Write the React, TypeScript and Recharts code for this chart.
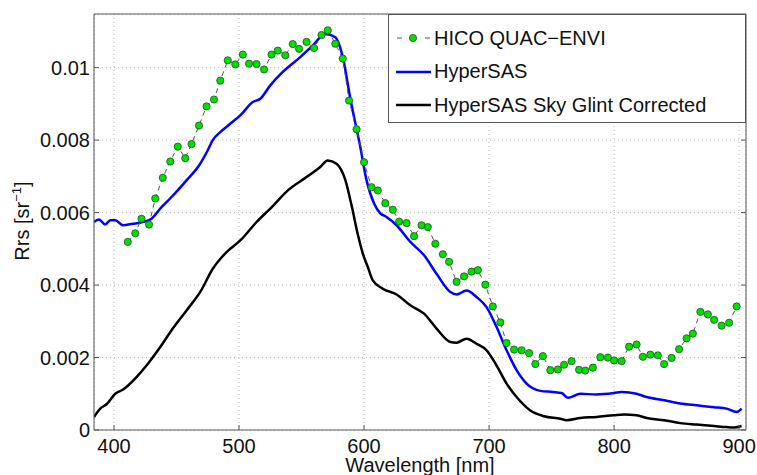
import { LineChart, Line, XAxis, YAxis, CartesianGrid } from 'recharts';

// HICO QUAC-ENVI retrieval (nm, sr^-1)
const hicoWl = [
  411, 417, 422, 428, 433, 439, 445, 451, 457, 462, 468, 474, 480, 485, 491, 497,
  503, 508, 514, 520, 526, 531, 537, 543, 548, 554, 560, 566, 571, 577, 583, 588,
  594, 600, 606, 611, 617, 623, 628, 634, 640, 646, 651, 657, 663, 668, 674, 680,
  686, 691, 697, 703, 709, 714, 720, 726, 732, 737, 743, 749, 755, 760, 766, 772,
  777, 783, 789, 795, 800, 806, 812, 818, 823, 829, 835, 840, 846, 852, 858, 863,
  869, 875, 880, 886, 892, 898,
];
const hicoRrs = [
  0.00519, 0.00543, 0.00583, 0.00567, 0.00639, 0.00696, 0.00741, 0.00782, 0.0075, 0.00789,
  0.0084, 0.00893, 0.00912, 0.00964, 0.0102, 0.01009, 0.01036, 0.01011, 0.0101, 0.00995,
  0.01036, 0.01047, 0.01034, 0.01065, 0.01052, 0.01071, 0.01054, 0.0109, 0.01103, 0.01066,
  0.01025, 0.00909, 0.0083, 0.00739, 0.0067, 0.00661, 0.00626, 0.00608, 0.00575, 0.00571,
  0.00535, 0.00565, 0.0056, 0.00514, 0.00485, 0.00464, 0.00409, 0.00424, 0.00437, 0.00441,
  0.00401, 0.00341, 0.00297, 0.0024, 0.00222, 0.0022, 0.00212, 0.00182, 0.00204, 0.00165,
  0.00167, 0.0018, 0.0019, 0.00166, 0.00164, 0.00172, 0.00201, 0.002, 0.00192, 0.0019,
  0.0023, 0.00236, 0.00202, 0.00208, 0.00206, 0.00182, 0.00199, 0.00223, 0.00253, 0.00266,
  0.00326, 0.00319, 0.00304, 0.00288, 0.00296, 0.00341,
];

// HyperSAS
const sasWl = [
  384, 388, 393, 397, 401, 407, 415, 423, 430, 438, 446, 458, 468, 475, 479, 485,
  493, 501, 511, 517, 525, 535, 549, 559, 569, 577, 583, 589, 597, 602, 608, 613,
  618, 626, 637, 648, 658, 669, 674, 682, 690, 698, 706, 714, 722, 730, 741, 751,
  758, 763, 773, 786, 800, 806, 818, 826, 840, 853, 866, 880, 890, 898, 902,
];
const sasRrs = [
  0.00574, 0.00581, 0.00567, 0.00579, 0.00579, 0.00565, 0.00569, 0.00574, 0.00583, 0.00615,
  0.00643, 0.00689, 0.0073, 0.00772, 0.008, 0.00822, 0.00845, 0.00868, 0.00905, 0.00914,
  0.00951, 0.00988, 0.01029, 0.01061, 0.01093, 0.01084, 0.01029, 0.00915, 0.00781, 0.00689,
  0.00625, 0.00598, 0.00588, 0.00565, 0.00519, 0.00482, 0.00431, 0.00381, 0.00374, 0.00385,
  0.00367, 0.00339, 0.00284, 0.0022, 0.00165, 0.00128, 0.00108, 0.00105, 0.00102, 0.00089,
  0.001, 0.00098, 0.00102, 0.00105, 0.001, 0.00091, 0.00082, 0.00073, 0.00068, 0.00063,
  0.00059, 0.0005, 0.00059,
];

// HyperSAS sky glint corrected
const glintWl = [
  384, 389, 394, 401, 407, 418, 426, 437, 447, 458, 469, 479, 490, 501, 514, 525,
  540, 554, 565, 571, 578, 585, 590, 595, 599, 603, 607, 615, 626, 637, 648, 658,
  669, 674, 682, 690, 698, 706, 714, 722, 733, 744, 757, 762, 773, 786, 800, 808,
  818, 826, 840, 853, 866, 880, 890, 896, 902,
];
const glintRrs = [
  0.00036, 0.00059, 0.00071, 0.001, 0.00111, 0.00146, 0.00178, 0.00229, 0.0028, 0.0033,
  0.00381, 0.00445, 0.00491, 0.00523, 0.00574, 0.00611, 0.00664, 0.00698, 0.00726, 0.00744,
  0.00735, 0.0069, 0.0062, 0.0054, 0.00487, 0.0045, 0.00413, 0.0039, 0.00374, 0.00344,
  0.00321, 0.0028, 0.00243, 0.00241, 0.00252, 0.00238, 0.0022, 0.00178, 0.00128, 0.00091,
  0.00054, 0.00038, 0.00031, 0.00027, 0.00033, 0.00036, 0.00041, 0.00043, 0.00041, 0.00033,
  0.00027, 0.00019, 0.00015, 0.00011, 0.00008, 0.00007, 0.00011,
];

const xTicks = [400, 500, 600, 700, 800, 900];
const yTicks = [0, 0.002, 0.004, 0.006, 0.008, 0.01];

const toRows = (wl: number[], v: number[]) => wl.map((x, i) => ({ wl: x, rrs: v[i] }));

const FONT = '"Liberation Sans", Arial, sans-serif';
const AXIS = '#555';
const FS = 20;

const GreenDot = (props: any) => {
  const { cx, cy } = props;
  if (cx == null || cy == null) return null;
  return <circle cx={cx} cy={cy} r={3.6} fill="#00e000" stroke="#1f4f1f" strokeWidth={0.8} />;
};

const fmtY = (v: number) => (v === 0 ? '0' : String(+v.toFixed(3)));

export default function App() {
  const hico = toRows(hicoWl, hicoRrs);
  const sas = toRows(sasWl, sasRrs);
  const glint = toRows(glintWl, glintRrs);

  return (
    <div style={{ position: 'absolute', left: 0, top: 0, width: 757, height: 475, background: '#fff', fontFamily: FONT, overflow: 'hidden' }}>
      <LineChart width={757} height={475} margin={{ top: 13, right: 10, bottom: 0, left: 0 }}>
        <CartesianGrid stroke="#bbb" strokeDasharray="1 3" />
        <XAxis
          dataKey="wl"
          type="number"
          domain={[384, 905.5]}
          ticks={xTicks}
          allowDataOverflow
          height={45}
          stroke={AXIS}
          tickSize={-5}
          tickMargin={14}
          tick={{ fill: '#111', fontSize: FS, fontFamily: FONT }}
          label={{
            content: () => (
              <text x={420} y={472} textAnchor="middle" fill="#111" fontSize={FS} fontFamily={FONT}>
                Wavelength [nm]
              </text>
            ),
          }}
        />
        <XAxis
          xAxisId="top"
          orientation="top"
          type="number"
          domain={[384, 905.5]}
          ticks={xTicks}
          allowDataOverflow
          height={1}
          stroke={AXIS}
          tickSize={-5}
          tickFormatter={() => ''}
        />
        <YAxis
          type="number"
          domain={[0, 0.01148]}
          ticks={yTicks}
          allowDataOverflow
          width={94}
          stroke={AXIS}
          tickSize={-5}
          tickMargin={9}
          tickFormatter={fmtY}
          tick={{ fill: '#111', fontSize: FS, fontFamily: FONT }}
          label={{
            content: () => (
              <text x={29} y={221} transform="rotate(-90 29 221)" textAnchor="middle" fill="#111" fontSize={FS} fontFamily={FONT}>
                Rrs [sr
                <tspan dy={-8} fontSize={13}>−1</tspan>
                <tspan dy={8}>]</tspan>
              </text>
            ),
          }}
        />
        <YAxis
          yAxisId="right"
          orientation="right"
          type="number"
          domain={[0, 0.01148]}
          ticks={yTicks}
          allowDataOverflow
          width={1}
          stroke={AXIS}
          tickSize={-5}
          tickFormatter={() => ''}
        />
        <Line
          data={glint}
          dataKey="rrs"
          type="monotone"
          stroke="#000"
          strokeWidth={2.5}
          dot={false}
          isAnimationActive={false}
        />
        <Line
          data={sas}
          dataKey="rrs"
          type="monotone"
          stroke="#0000ff"
          strokeWidth={2.5}
          dot={false}
          isAnimationActive={false}
        />
        <Line
          data={hico}
          dataKey="rrs"
          type="linear"
          stroke="#555"
          strokeWidth={1}
          strokeDasharray="5 4"
          dot={<GreenDot />}
          isAnimationActive={false}
        />
      </LineChart>

      <div
        style={{
          position: 'absolute',
          left: 388,
          top: 14,
          width: 358,
          height: 109,
          background: '#fff',
          border: '1px solid #555',
          boxSizing: 'border-box',
          fontSize: FS,
          color: '#111',
        }}
      >
        {[
          { name: 'HICO QUAC\u2212ENVI', kind: 'hico' },
          { name: 'HyperSAS', kind: 'blue' },
          { name: 'HyperSAS Sky Glint Corrected', kind: 'black' },
        ].map((it, i) => (
          <div key={it.name} style={{ position: 'absolute', left: 6, top: 11 + i * 33.5, height: 24, display: 'flex', alignItems: 'center' }}>
            <svg width={38} height={24} style={{ display: 'block' }}>
              {it.kind === 'hico' ? (
                <>
                  <line x1={1} y1={12} x2={36} y2={12} stroke="#555" strokeWidth={1} strokeDasharray="5 9" strokeDashoffset={-1} />
                  <circle cx={18} cy={12} r={3.6} fill="#00e000" stroke="#1f4f1f" strokeWidth={0.8} />
                </>
              ) : (
                <line x1={1} y1={12} x2={36} y2={12} stroke={it.kind === 'blue' ? '#0000ff' : '#000'} strokeWidth={2.4} />
              )}
            </svg>
            <span style={{ whiteSpace: 'nowrap', marginLeft: 1 }}>{it.name}</span>
          </div>
        ))}
      </div>
    </div>
  );
}
